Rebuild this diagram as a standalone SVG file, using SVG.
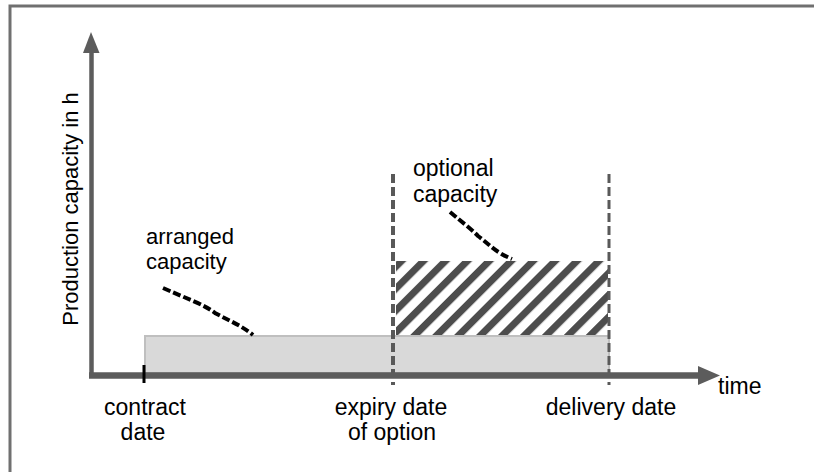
<svg xmlns="http://www.w3.org/2000/svg" width="814" height="472" viewBox="0 0 814 472">
<defs>
<pattern id="hatch" patternUnits="userSpaceOnUse" width="15.5" height="15.5" patternTransform="rotate(45)">
<rect x="0" y="0" width="7" height="15.5" fill="#4d4d4d"/>
</pattern>
<clipPath id="hclip"><rect x="396" y="261" width="212" height="74"/></clipPath>
</defs>
<style>
text{font-family:"Liberation Sans",Arial,sans-serif;fill:#000}
.lbl{font-size:23px}
.axis{stroke:#5c5c5c;fill:none}
.head{fill:#5c5c5c}
.vdash{stroke:#595959;fill:none;stroke-dasharray:9 4}
.leader{stroke:#000;fill:none;stroke-width:4;stroke-dasharray:8 3}
</style>
<path id="frame" d="M10,472 L10,6 L814,6" fill="none" stroke="#707070" stroke-width="3"/>
<g id="arranged-box">
<rect x="145" y="336" width="464" height="37" fill="#d9d9d9" stroke="#bfbfbf" stroke-width="2"/>
</g>
<g id="optional-box">
<rect x="380" y="250" width="240" height="100" fill="url(#hatch)" clip-path="url(#hclip)"/>
</g>
<g id="connectors">
<line class="vdash" x1="393" y1="174" x2="393" y2="385" stroke-width="4"/>
<line class="vdash" x1="609" y1="174" x2="609" y2="385" stroke-width="3"/>
<line class="axis" x1="91.5" y1="50" x2="91.5" y2="378" stroke-width="4.5"/>
<polygon class="head" points="91,32 83,53 99.5,53"/>
<line class="axis" x1="89" y1="375.5" x2="700" y2="375.5" stroke-width="6.5"/>
<polygon class="head" points="720,375.5 698,366 698,385"/>
<line x1="144" y1="365" x2="144" y2="383" stroke="#000" stroke-width="3"/>
<path class="leader" d="M163,288 C190,300 205,305 215,313 C232,322 242,326 253,335"/>
<path class="leader" d="M450,212 C462,222 470,228 478,236 C490,245 495,252 512,259"/>
</g>
<g id="y-label">
<text style="font-size:22px" transform="translate(78,209) rotate(-90)" text-anchor="middle">Production capacity in h</text>
</g>
<g id="arranged-label">
<text style="font-size:22px" x="146" y="244">arranged</text>
<text style="font-size:22px" x="146" y="269">capacity</text>
</g>
<g id="optional-label">
<text class="lbl" x="413" y="176">optional</text>
<text class="lbl" x="413" y="202">capacity</text>
</g>
<g id="contract-date">
<text class="lbl" x="145" y="415" text-anchor="middle">contract</text>
<text class="lbl" x="143" y="440" text-anchor="middle">date</text>
</g>
<g id="expiry-date">
<text class="lbl" x="391" y="415" text-anchor="middle">expiry date</text>
<text class="lbl" x="392" y="440" text-anchor="middle">of option</text>
</g>
<g id="delivery-date">
<text class="lbl" x="611" y="415" text-anchor="middle">delivery date</text>
</g>
<g id="time-label">
<text class="lbl" x="718" y="394">time</text>
</g>
</svg>
